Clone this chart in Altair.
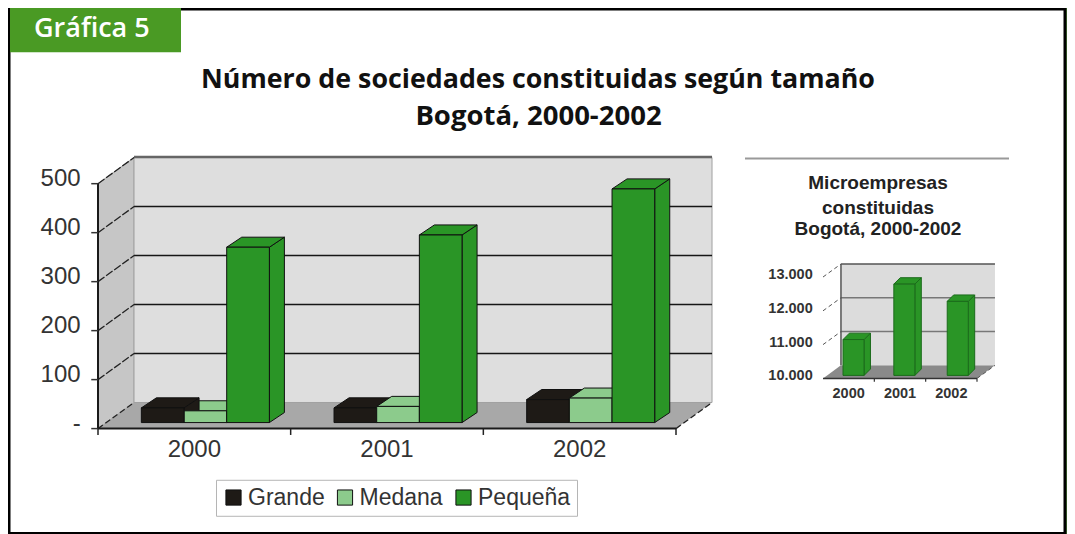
import altair as alt
import pandas as pd

# ---- data ----
years = [2000, 2001, 2002]
series = ["Grande", "Medana", "Pequeña"]
grande = [30, 30, 47]
medana = [24, 33, 50]
pequena = [358, 383, 477]
main_ticks = [0, 100, 200, 300, 400, 500]
main_tick_labels = ["-", "100", "200", "300", "400", "500"]
micro = [11150, 12790, 12280]
micro_ticks = [10000, 11000, 12000, 13000]
micro_tick_labels = ["10.000", "11.000", "12.000", "13.000"]

colors = ["#1e1a16", "#8ccb8c", "#2a9526"]
FONT = "Liberation Sans"

# The 8px page margin; vertically the page is a little taller than the window
# and the photograph is fitted back to it.
SX, SY = 1.0, 536 / 534


def px(v):
    return v * SX - 8


def py(v):
    return v * SY - 8


# main panel scales
MX = alt.Scale(domain=[0, 3], range=[px(98), px(676)], nice=False, zero=False)
MY = alt.Scale(domain=[0, 500], range=[py(427), py(183)], nice=False, zero=False)
# inset scales
IX = alt.Scale(domain=[0, 3], range=[px(823), px(977)], nice=False, zero=False)
IY = alt.Scale(domain=[10000, 13000], range=[py(377), py(276)], nice=False, zero=False)


def enc(sx, sy, **chs):
    out = {}
    for k, v in chs.items():
        if k == "x":
            out[k] = alt.X(v, type="quantitative", scale=sx, axis=None, stack=None)
        elif k == "y":
            out[k] = alt.Y(v, type="quantitative", scale=sy, axis=None, stack=None)
        elif k == "x2":
            out[k] = alt.X2(v)
        elif k == "y2":
            out[k] = alt.Y2(v)
        else:
            out[k] = v
    return out


def polyline(segs, sx, sy, **mk):
    rows = []
    for i, (x0, y0, x1, y1) in enumerate(segs):
        rows += [dict(i=i, n=0, x=x0, y=y0), dict(i=i, n=1, x=x1, y=y1)]
    return alt.Chart(pd.DataFrame(rows)).mark_line(**mk).encode(
        detail="i:N", order="n:Q", **enc(sx, sy, x="x", y="y"))


def rect(rows, sx, sy, **mk):
    return alt.Chart(pd.DataFrame(rows)).mark_rect(**mk).encode(
        **enc(sx, sy, x="x", x2="x2", y="y", y2="y2"))


def vface(rows, sx, sy, **mk):
    return alt.Chart(pd.DataFrame(rows)).mark_area(**mk).encode(
        detail="b:N", **enc(sx, sy, x="x", y="y", y2="y2"))


def hface(rows, sx, sy, **mk):
    return alt.Chart(pd.DataFrame(rows)).mark_area(orient="horizontal", **mk).encode(
        detail="b:N", **enc(sx, sy, y="y", x="x", x2="x2"))


def labels(rows, sx, sy, **mk):
    return alt.Chart(pd.DataFrame(rows)).mark_text(**mk).encode(
        text="t:N", **enc(sx, sy, x="x", y="y"))


layers = []

# ---- frame, header ----
page = alt.Chart(pd.DataFrame({"a": [0]}))
layers.append(page.mark_rect(fill="#5f9f45").encode(
    x=alt.value(0), x2=alt.value(1059), y=alt.value(0), y2=alt.value(py(534))))
layers.append(page.mark_rect(fill="white", stroke="black", strokeWidth=3).encode(
    x=alt.value(1), x2=alt.value(1057), y=alt.value(1), y2=alt.value(py(531.5))))
layers.append(page.mark_rect(fill="#4a9a24").encode(
    x=alt.value(2), x2=alt.value(px(181)), y=alt.value(0), y2=alt.value(py(52))))
layers.append(page.mark_text(text="Gráfica 5", font="Open Sans", fontSize=27, fontWeight=600, color="white",
                             align="left", baseline="middle").encode(x=alt.value(px(34)), y=alt.value(py(29))))
layers.append(page.mark_text(text="Número de sociedades constituidas según tamaño", font="Open Sans", fontSize=26.8,
                             fontWeight="bold", color="#111", align="center", baseline="middle").encode(
    x=alt.value(px(538)), y=alt.value(py(80))))
layers.append(page.mark_text(text="Bogotá, 2000-2002", font="Open Sans", fontSize=27.5, fontWeight="bold",
                             color="#111", align="center", baseline="middle").encode(
    x=alt.value(px(538.5)), y=alt.value(py(116.5))))

# ---- main panel ----
DX, DY = 0.187, 53.3          # depth of the box in scale units
BASE = 12.3                   # bars stand a little behind the front edge
BW = 0.2215                   # bar width
BDX, BDY = 0.078, 20.5        # depth of a bar
START = 0.225

layers.append(vface([dict(b=0, x=0, y=500, y2=0), dict(b=0, x=DX, y=500 + DY, y2=DY)], MX, MY,
                    fill="#c6c6c6", stroke="#a8a8a8", strokeWidth=1))
layers.append(hface([dict(b=0, y=0, x=0, x2=3), dict(b=0, y=DY, x=DX, x2=3 + DX)], MX, MY,
                    fill="#a8a8a8"))
layers.append(rect([dict(x=DX, x2=3 + DX, y=DY, y2=500 + DY)], MX, MY,
                   fill="#dedede", stroke="#a0a0a0", strokeWidth=1))
layers.append(polyline([(DX, 500 + DY + 1, 3 + DX, 500 + DY + 1)], MX, MY, color="#666666", strokeWidth=2.5))
layers.append(polyline([(DX, t + DY, 3 + DX, t + DY) for t in main_ticks[1:-1]], MX, MY,
                       color="#161616", strokeWidth=1.6))
layers.append(polyline([(0, t, DX, t + DY) for t in main_ticks[1:]], MX, MY,
                       color="#222222", strokeWidth=1.3, strokeDash=[8, 2]))
layers.append(polyline([(g, 0, g + DX, DY) for g in [0, 3]], MX, MY,
                       color="#222222", strokeWidth=1.3, strokeDash=[6, 3]))

values = {"Grande": grande, "Medana": medana, "Pequeña": pequena}
fronts = []
for gi in range(3):
    # the shorter of the two small bars is drawn first, the tall one last
    order = sorted([0, 1], key=lambda k: values[series[k]][gi]) + [2]
    for si in order:
        s = series[si]
        v = values[s][gi]
        x0 = gi + START + si * BW
        x1 = x0 + BW
        top = [dict(b=gi, y=BASE + v, x=x0, x2=x1), dict(b=gi, y=BASE + v + BDY, x=x0 + BDX, x2=x1 + BDX)]
        side = [dict(b=gi, x=x1, y=BASE + v, y2=BASE), dict(b=gi, x=x1 + BDX, y=BASE + v + BDY, y2=BASE + BDY)]
        fronts.append(dict(s=s, x=x0, x2=x1, y=BASE, y2=BASE + v))
        layers.append(vface(side, MX, MY, fill=colors[si], stroke="#101010", strokeWidth=1))
        layers.append(hface(top, MX, MY, fill=colors[si], stroke="#101010", strokeWidth=1))

layers.append(alt.Chart(pd.DataFrame(fronts)).mark_rect(stroke="#101010", strokeWidth=1).encode(
    color=alt.Color("s:N", scale=alt.Scale(domain=series, range=colors), legend=alt.Legend(
        orient="none", legendX=px(216), legendY=py(478), direction="horizontal", columns=3, title=None,
        symbolType="square", symbolSize=230, symbolOpacity=1, symbolStrokeColor="#101010", symbolStrokeWidth=1,
        labelFont=FONT, labelFontSize=23, labelColor="#333333", labelOffset=3, columnPadding=8.5,
        fillColor="white", strokeColor="#b5b5b5", padding=6, symbolOffset=0)),
    **enc(MX, MY, x="x", x2="x2", y="y", y2="y2")))

# axes of main panel
layers.append(polyline([(0, 0, 0, 500), (0, 0, 3, 0)], MX, MY, color="#1a1a1a", strokeWidth=2))
layers.append(polyline([(-0.035, t, 0, t) for t in main_ticks], MX, MY, color="#333333", strokeWidth=1.5))
layers.append(polyline([(g, 0, g, -13) for g in range(4)], MX, MY, color="#222222", strokeWidth=1.5))
layers.append(labels([dict(x=-0.09, y=t, t=l) for t, l in zip(main_ticks, main_tick_labels)], MX, MY,
                     font=FONT, fontSize=24, color="#333333", align="right", baseline="middle", dy=-5))
layers.append(labels([dict(x=i + 0.5, y=-43, t=str(y)) for i, y in enumerate(years)], MX, MY,
                     font=FONT, fontSize=24, color="#333333", align="center", baseline="middle"))

# ---- inset panel ----
layers.append(page.mark_rule(color="#999999", strokeWidth=2).encode(
    x=alt.value(px(745)), x2=alt.value(px(1009)), y=alt.value(py(158))))
for i, line in enumerate(["Microempresas", "constituidas", "Bogotá, 2000-2002"]):
    layers.append(page.mark_text(text=line, font=FONT, fontSize=19, fontWeight="bold",
                                 color="#222222", align="center", baseline="middle").encode(
        x=alt.value(px(878)), y=alt.value(py([182, 207, 228][i]))))

IDX, IDY = 0.35, 386
IBASE = 89
IW = 0.41
IBDX, IBDY = 0.125, 190
istart = [0.39, 1.38, 2.42]

layers.append(hface([dict(b=0, y=10000, x=0, x2=3), dict(b=0, y=10000 + IDY, x=IDX, x2=3 + IDX)], IX, IY,
                    fill="#8a8a8a"))
layers.append(rect([dict(x=IDX, x2=3 + IDX, y=10000 + IDY, y2=13000 + IDY)], IX, IY, fill="#dcdcdc"))
layers.append(polyline([(IDX, t + IDY, 3 + IDX, t + IDY) for t in micro_ticks[1:-1]], IX, IY,
                       color="#777777", strokeWidth=1.5))
layers.append(polyline([(IDX, 13000 + IDY, 3 + IDX, 13000 + IDY), (IDX, 10000 + IDY, IDX, 13000 + IDY)], IX, IY,
                       color="#555555", strokeWidth=1.5))
layers.append(polyline([(0, t, IDX, t + IDY) for t in micro_ticks[1:]] + [(3, 10000, 3 + IDX, 10000 + IDY)], IX, IY,
                       color="#555555", strokeWidth=1, strokeDash=[4, 3]))
iside, itop, ifront = [], [], []
for gi, v in enumerate(micro):
    x0 = istart[gi]
    x1 = x0 + IW
    b = 10000 + IBASE
    itop += [dict(b=gi, y=v, x=x0, x2=x1), dict(b=gi, y=v + IBDY, x=x0 + IBDX, x2=x1 + IBDX)]
    iside += [dict(b=gi, x=x1, y=v, y2=b), dict(b=gi, x=x1 + IBDX, y=v + IBDY, y2=b + IBDY)]
    ifront.append(dict(x=x0, x2=x1, y=b, y2=v))
layers.append(vface(iside, IX, IY, fill=colors[2], stroke="#1b6b1b", strokeWidth=1))
layers.append(hface(itop, IX, IY, fill=colors[2], stroke="#1b6b1b", strokeWidth=1))
layers.append(rect(ifront, IX, IY, fill=colors[2], stroke="#1b6b1b", strokeWidth=1))
layers.append(polyline([(0, 10000, 3, 10000)], IX, IY, color="#333333", strokeWidth=1.5))
layers.append(polyline([(g, 10000, g, 9900) for g in range(1, 4)], IX, IY, color="#333333", strokeWidth=1.2))
layers.append(labels([dict(x=-0.2, y=t, t=l) for t, l in zip(micro_ticks, micro_tick_labels)], IX, IY,
                     font=FONT, fontSize=14.5, fontWeight=600, color="#333333", align="right", baseline="middle", dy=-2))
layers.append(labels([dict(x=i + 0.5, y=9530, t=str(y)) for i, y in enumerate(years)], IX, IY,
                     font=FONT, fontSize=14.5, fontWeight=600, color="#333333", align="center", baseline="middle"))

chart = alt.layer(*layers).resolve_scale(x="independent", y="independent", color="independent").properties(
    width=1059, height=526, padding=0, autosize="none", background="white"
).configure_view(stroke=None)

chart.save("out.html", embed_options={"renderer": "svg", "actions": False})
